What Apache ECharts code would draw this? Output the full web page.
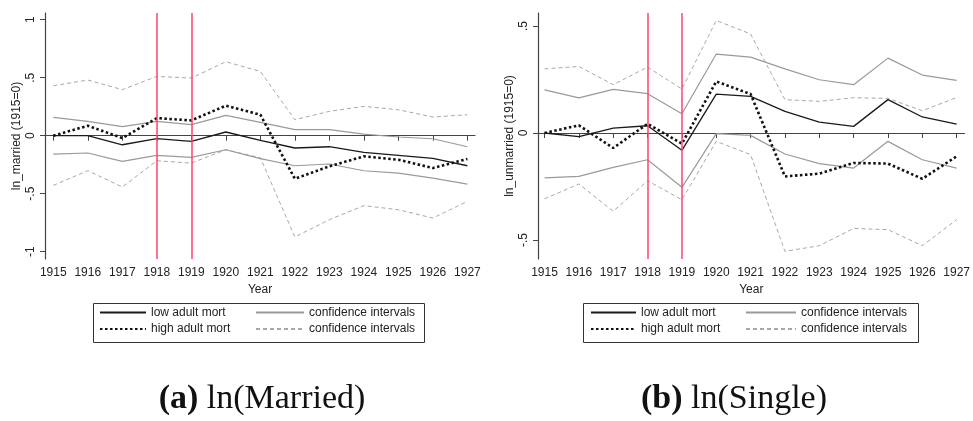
<!DOCTYPE html>
<html>
<head>
<meta charset="utf-8">
<script src="https://cdn.jsdelivr.net/npm/echarts@6/dist/echarts.min.js"></script>
<style>html,body{margin:0;padding:0;background:#fff;}#c{width:973px;height:421px;}</style>
</head>
<body>
<div id="c"></div>
<script>
const years = [1915,1916,1917,1918,1919,1920,1921,1922,1923,1924,1925,1926,1927];
const shockYears = [1918, 1919];
const yTicksA = [-1, -0.5, 0, 0.5, 1];
const yTicksB = [-0.5, 0, 0.5];

// (a) ln(Married)
const marLow      = [0, -0.00, -0.078, -0.026, -0.049, 0.032, -0.04, -0.106, -0.095, -0.144, -0.17, -0.196, -0.259];
const marHigh     = [0, 0.086, -0.02, 0.152, 0.132, 0.259, 0.181, -0.371, -0.264, -0.178, -0.207, -0.279, -0.2];
const marLowCIUp  = [0.158, 0.124, 0.078, 0.124, 0.095, 0.175, 0.115, 0.052, 0.052, 0.014, -0.011, -0.026, -0.095];
const marLowCILo  = [-0.158, -0.149, -0.221, -0.17, -0.187, -0.121, -0.198, -0.259, -0.244, -0.302, -0.322, -0.365, -0.417];
const marHighCIUp = [0.431, 0.48, 0.397, 0.511, 0.497, 0.638, 0.554, 0.138, 0.21, 0.253, 0.224, 0.161, 0.181];
const marHighCILo = [-0.428, -0.302, -0.442, -0.216, -0.236, -0.121, -0.19, -0.873, -0.724, -0.603, -0.638, -0.71, -0.566];

// (b) ln(Single)
const sinLow      = [0, -0.017, 0.023, 0.034, -0.081, 0.182, 0.171, 0.101, 0.051, 0.031, 0.156, 0.075, 0.042];
const sinHigh     = [0, 0.036, -0.07, 0.043, -0.05, 0.241, 0.182, -0.203, -0.19, -0.14, -0.143, -0.214, -0.109];
const sinLowCIUp  = [0.202, 0.164, 0.204, 0.184, 0.09, 0.369, 0.355, 0.3, 0.249, 0.226, 0.35, 0.271, 0.246];
const sinLowCILo  = [-0.21, -0.203, -0.161, -0.125, -0.254, -0.003, -0.011, -0.098, -0.143, -0.164, -0.039, -0.125, -0.164];
const sinHighCIUp = [0.3, 0.311, 0.226, 0.308, 0.206, 0.526, 0.463, 0.156, 0.148, 0.165, 0.162, 0.104, 0.166];
const sinHighCILo = [-0.308, -0.238, -0.366, -0.223, -0.312, -0.039, -0.101, -0.553, -0.527, -0.446, -0.452, -0.527, -0.405];

const nameLow = 'low adult mort';
const nameHigh = 'high adult mort';
const nameCI1 = 'confidence intervals';
const nameCI2 = 'confidence intervals ';

const FONT = 'Liberation Sans, Arial, sans-serif';
const SERIF = 'Liberation Serif, Times New Roman, serif';
const styles = {
  low:  {color: '#1a1a1a', width: 1.3, type: 'solid'},
  high: {color: '#111111', width: 2.6, type: [2.5, 2.5]},
  ci1:  {color: '#9a9a9a', width: 1.2, type: 'solid'},
  ci2:  {color: '#a8a8a8', width: 1, type: [4, 3]}
};

function mk(name, arr, st, idx, extra) {
  const s = {
    type: 'line', name: name, xAxisIndex: idx, yAxisIndex: idx,
    data: years.map((y, i) => [y, arr[i]]),
    symbol: 'none', showSymbol: false, animation: false, silent: true,
    lineStyle: {color: st.color, width: st.width, type: st.type},
    itemStyle: {color: st.color},
    z: 3
  };
  return Object.assign(s, extra || {});
}
function redLines() {
  return {
    symbol: ['none', 'none'], silent: true, animation: false,
    label: {show: false},
    lineStyle: {color: '#ff4272', width: 1.5, type: 'solid'},
    data: shockYears.map(y => ({xAxis: y}))
  };
}

function xAxis(idx, min, max) {
  return {
    type: 'value', gridIndex: idx, min: min, max: max,
    name: 'Year', nameLocation: 'middle', nameGap: 20,
    nameTextStyle: {fontSize: 12, color: '#222', fontFamily: FONT},
    axisLine: {show: true, lineStyle: {color: '#444', width: 1.2}},
    axisTick: {show: true, length: 5, customValues: years, lineStyle: {color: '#444'}},
    axisLabel: {show: true, customValues: years, margin: 8, fontSize: 12, color: '#222', fontFamily: FONT, formatter: v => String(v)},
    splitLine: {show: false}
  };
}
function fmtY(v) {
  if (Math.abs(v) < 1e-9) return '0';
  return String(v).replace('0.', '.');
}
function yAxis(idx, min, max, ticks, name, gap) {
  return {
    type: 'value', gridIndex: idx, min: min, max: max,
    name: name, nameLocation: 'middle', nameGap: gap, nameRotate: 90,
    nameTextStyle: {fontSize: 12, color: '#222', fontFamily: FONT},
    axisLine: {show: true, lineStyle: {color: '#444', width: 1.2}},
    axisTick: {show: true, length: 5, customValues: ticks, lineStyle: {color: '#444'}},
    axisLabel: {show: true, customValues: ticks, rotate: 90, margin: 8, fontSize: 12, color: '#222', fontFamily: FONT, formatter: fmtY},
    splitLine: {show: false}
  };
}
function legend(left, top, data, w) {
  return {
    orient: 'vertical', left: left, top: top, data: data,
    itemWidth: w, itemHeight: 12, itemGap: 4.6, padding: 0,
    selectedMode: false,
    itemStyle: {opacity: 0, color: 'transparent', borderWidth: 0},
    textStyle: {fontSize: 12, color: '#222', fontFamily: FONT}
  };
}
function caption(letter, rest, cx) {
  return {
    text: '{b|' + letter + '} ' + rest, left: cx, top: 382, textAlign: 'center', padding: 0,
    textStyle: {fontFamily: SERIF, fontSize: 34, fontWeight: 'normal', color: '#111',
      rich: {b: {fontFamily: SERIF, fontSize: 34, fontWeight: 'bold', color: '#111'}}}
  };
}

const chart = echarts.init(document.getElementById('c'), null, {renderer: 'canvas'});
chart.setOption({
  animation: false,
  backgroundColor: '#fff',
  title: [caption('(a)', 'ln(Married)', 262), caption('(b)', 'ln(Single)', 734)],
  grid: [
    {left: 45, top: 13, width: 430, height: 246},
    {left: 538, top: 13, width: 429, height: 246}
  ],
  xAxis: [xAxis(0, 1914.76, 1927.22), xAxis(1, 1914.81, 1927.23)],
  yAxis: [
    yAxis(0, -1.063, 1.058, yTicksA, 'ln_married (1915=0)', 22),
    yAxis(1, -0.589, 0.561, yTicksB, 'ln_unmarried (1915=0)', 22)
  ],
  legend: [
    legend(99, 306.5, [nameLow, nameHigh], 46),
    legend(255, 306.5, [nameCI1, nameCI2], 48),
    legend(590, 306.5, [nameLow, nameHigh], 45),
    legend(745, 306.5, [nameCI1, nameCI2], 50)
  ],
  graphic: [
    {type: 'rect', shape: {x: 93.5, y: 303.5, width: 331, height: 39}, style: {fill: 'none', stroke: '#333', lineWidth: 1}, silent: true},
    {type: 'rect', shape: {x: 583.5, y: 303.5, width: 335, height: 39}, style: {fill: 'none', stroke: '#333', lineWidth: 1}, silent: true}
  ],
  series: [
    mk(nameCI2, marHighCIUp, styles.ci2, 0, {markLine: redLines()}),
    mk(nameCI2, marHighCILo, styles.ci2, 0),
    mk(nameCI1, marLowCIUp, styles.ci1, 0),
    mk(nameCI1, marLowCILo, styles.ci1, 0),
    mk(nameLow, marLow, styles.low, 0),
    mk(nameHigh, marHigh, styles.high, 0),
    mk(nameCI2, sinHighCIUp, styles.ci2, 1, {markLine: redLines()}),
    mk(nameCI2, sinHighCILo, styles.ci2, 1),
    mk(nameCI1, sinLowCIUp, styles.ci1, 1),
    mk(nameCI1, sinLowCILo, styles.ci1, 1),
    mk(nameLow, sinLow, styles.low, 1),
    mk(nameHigh, sinHigh, styles.high, 1)
  ]
});
</script>
</body>
</html>
